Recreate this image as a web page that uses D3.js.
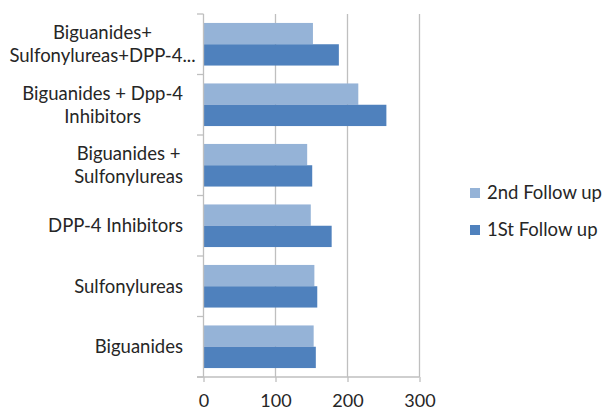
<!DOCTYPE html>
<html><head><meta charset="utf-8">
<script src="https://cdn.jsdelivr.net/npm/d3@7"></script>
<style>body{margin:0;background:#fff}svg text{font-family:Lato,sans-serif;fill:#262626}</style>
</head><body><svg id="c" width="607" height="410"></svg>
<script>
const categories = ["Biguanides", "Sulfonylureas", "DPP-4 Inhibitors", "Biguanides + Sulfonylureas", "Biguanides + Dpp-4 Inhibitors", "Biguanides+ Sulfonylureas+DPP-4..."];
const categoryLines = [["Biguanides"], ["Sulfonylureas"], ["DPP-4 Inhibitors"], ["Biguanides +", "Sulfonylureas"], ["Biguanides + Dpp-4", "Inhibitors"], ["Biguanides+", "Sulfonylureas+DPP-4..."]];
const series = ["1St Follow up", "2nd Follow up"];
const firstFollowUp = [156, 158, 178, 151, 254, 188];
const secondFollowUp = [153, 154, 149, 144, 215, 152];
const xTicks = [0, 100, 200, 300];
const colors = {"2nd Follow up": "#95b3d7", "1St Follow up": "#4f81bd"};
const FS = 18.5;

const svg = d3.select("#c");
const x = d3.scaleLinear().domain([0, 300]).range([203.5, 419.5]);
const y = d3.scaleBand().domain(categories.slice().reverse()).range([14, 377]);
const inner = d3.scaleBand().domain(["2nd Follow up", "1St Follow up"]).range([0, y.bandwidth()]).paddingInner(0).paddingOuter(0.42);

svg.append("g").selectAll("line").data(xTicks.slice(1)).join("line")
  .attr("x1", d => x(d)).attr("x2", d => x(d)).attr("y1", 14).attr("y2", 377)
  .attr("stroke", "#bfbfbf").attr("stroke-width", 1.3);

const data = [];
categories.forEach((c, i) => {
  data.push({c, s: "2nd Follow up", v: secondFollowUp[i]});
  data.push({c, s: "1St Follow up", v: firstFollowUp[i]});
});
svg.append("g").selectAll("rect").data(data).join("rect")
  .attr("x", x(0)).attr("y", d => y(d.c) + inner(d.s))
  .attr("width", d => x(d.v) - x(0)).attr("height", inner.bandwidth())
  .attr("fill", d => colors[d.s]);

const yAxisG = svg.append("g");
yAxisG.append("line").attr("x1", 203.5).attr("x2", 203.5).attr("y1", 14).attr("y2", 377).attr("stroke", "#bfbfbf").attr("stroke-width", 1.3);
const bounds = [14].concat(categories.map(c => y(c) + y.bandwidth()));
yAxisG.selectAll("line.t").data(bounds).join("line").attr("class", "t")
  .attr("x1", 197).attr("x2", 203.5).attr("y1", d => d).attr("y2", d => d)
  .attr("stroke", "#bfbfbf").attr("stroke-width", 1.3);

const xAxisG = svg.append("g").attr("transform", "translate(0,377)")
  .call(d3.axisBottom(x).tickValues(xTicks).tickSize(5).tickPadding(12).tickFormat(d3.format("d")));
xAxisG.select(".domain").attr("stroke", "#bfbfbf").attr("stroke-width", 1.3).attr("d", "M197,0H419.5");
xAxisG.selectAll(".tick line").attr("stroke", "#bfbfbf").attr("stroke-width", 1.3);
xAxisG.selectAll(".tick text").attr("font-size", 18).attr("font-family", "Lato").attr("fill", "#262626");

categories.forEach((c, i) => {
  const lines = categoryLines[i];
  const g = svg.append("g");
  const cy = y(c) + y.bandwidth() / 2;
  const lh = 23;
  const texts = lines.map((l, j) => g.append("text").text(l)
    .attr("font-size", FS).attr("text-anchor", "middle")
    .attr("y", cy + (j - (lines.length - 1) / 2) * lh).attr("dy", "0.35em"));
  const maxW = d3.max(texts, t => t.node().getComputedTextLength());
  const cx = Math.max(183 - maxW / 2, 102.5);
  texts.forEach(t => t.attr("x", cx));
});

const legend = svg.append("g");
["2nd Follow up", "1St Follow up"].forEach((s, i) => {
  const ly = 193 + i * 37;
  legend.append("rect").attr("x", 470).attr("y", ly - 5).attr("width", 10).attr("height", 10).attr("fill", colors[s]);
  legend.append("text").attr("x", 487).attr("y", ly).attr("dy", "0.35em").attr("font-size", FS).text(s);
});
</script></body></html>
